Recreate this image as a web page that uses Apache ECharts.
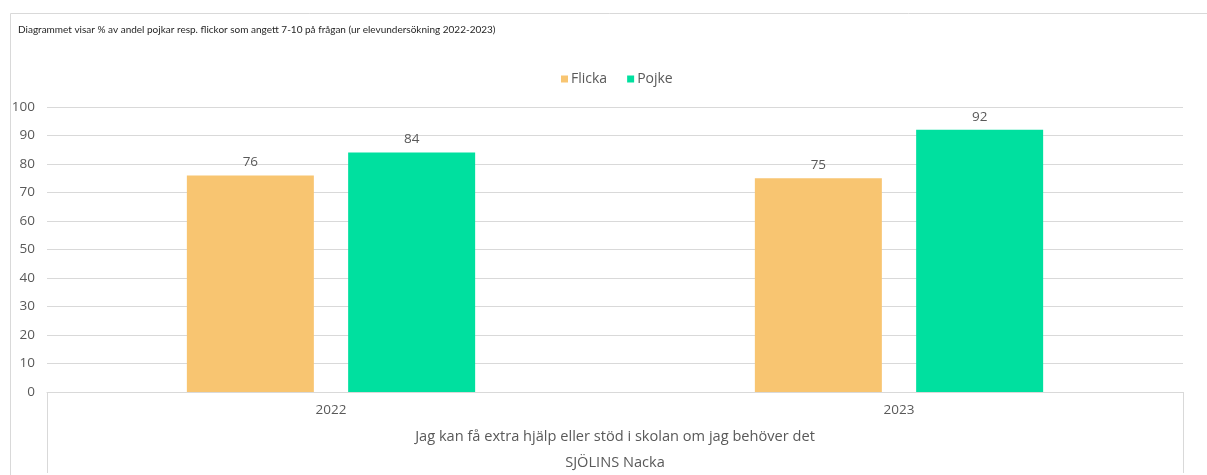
<!DOCTYPE html>
<html>
<head>
<meta charset="utf-8">
<script src="https://cdn.jsdelivr.net/npm/echarts@6/dist/echarts.min.js"></script>
<style>
  html, body { margin: 0; padding: 0; background: #fff; }
  #chart { width: 1207px; height: 475px; }
</style>
</head>
<body>
<div id="chart"></div>
<script>
const titleText = 'Diagrammet visar % av andel pojkar resp. flickor som angett 7-10 på frågan (ur elevundersökning 2022-2023)';
const years = ['2022', '2023'];
const questionLabel = ['Jag kan få extra hjälp eller stöd i skolan om jag behöver det'];
const schoolLabel = ['SJÖLINS Nacka'];
const flicka = [76, 75];
const pojke = [84, 92];

const font = 'Open Sans';
const textColor = '#595959';
const lineColor = '#d9d9d9';

const chart = echarts.init(document.getElementById('chart'));

chart.setOption({
  animation: false,
  textStyle: { fontFamily: font },
  title: {
    text: titleText,
    left: 13,
    top: 20,
    textStyle: { fontSize: 10, fontWeight: 'normal', color: '#262626', fontFamily: 'Lato' },
  },
  legend: {
    data: ['Flicka', 'Pojke'],
    top: 67,
    left: 556,
    icon: 'rect',
    itemWidth: 7,
    itemHeight: 7,
    itemGap: 20,
    textStyle: { color: textColor, fontSize: 14, fontFamily: font, padding: [0, 0, 0, -2] },
  },
  grid: { left: 47, right: 24, top: 107, bottom: 83, containLabel: false },
  xAxis: [
    {
      type: 'category',
      data: years,
      axisLine: { lineStyle: { color: lineColor } },
      axisTick: { show: false },
      axisLabel: { color: textColor, fontSize: 13.5, margin: 11 },
    },
    {
      type: 'category',
      data: questionLabel,
      position: 'bottom',
      axisLine: { show: false },
      axisTick: { show: true, length: 81, lineStyle: { color: lineColor } },
      axisLabel: { color: textColor, fontSize: 14.6, margin: 37 },
    },
    {
      type: 'category',
      data: schoolLabel,
      position: 'bottom',
      axisLine: { show: false },
      axisTick: { show: false },
      axisLabel: { color: textColor, fontSize: 14.6, margin: 63 },
    },
  ],
  yAxis: {
    type: 'value',
    min: 0,
    max: 100,
    interval: 10,
    axisLine: { show: false },
    axisTick: { show: false },
    axisLabel: { color: textColor, fontSize: 13.5, margin: 12 },
    splitLine: { lineStyle: { color: lineColor } },
  },
  graphic: [
    {
      type: 'rect',
      shape: { x: 10.5, y: 13.5, width: 1210, height: 480 },
      style: { fill: 'none', stroke: lineColor, lineWidth: 1 },
      silent: true,
    },
  ],
  series: [
    {
      name: 'Flicka',
      type: 'bar',
      data: flicka,
      barWidth: 127,
      barGap: '27%',
      itemStyle: { color: '#F8C571' },
      label: { show: true, position: 'top', distance: 6, color: textColor, fontSize: 13.5 },
    },
    {
      name: 'Pojke',
      type: 'bar',
      data: pojke,
      barWidth: 127,
      barGap: '27%',
      itemStyle: { color: '#00E09F' },
      label: { show: true, position: 'top', distance: 6, color: textColor, fontSize: 13.5 },
    },
  ],
});
</script>
</body>
</html>
